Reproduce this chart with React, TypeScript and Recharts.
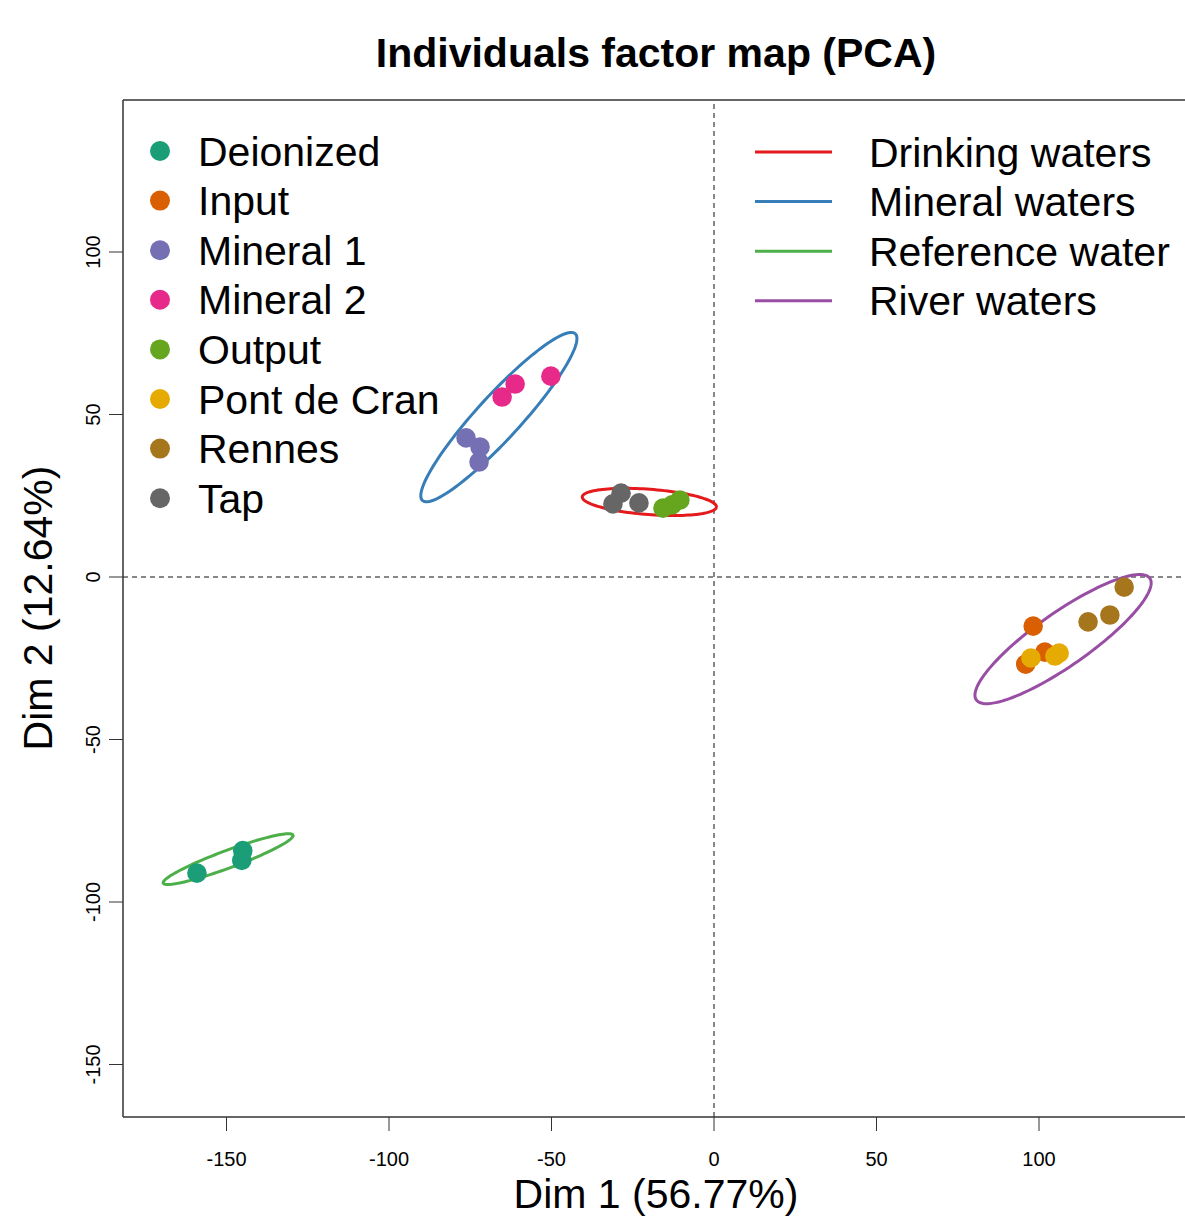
import { ScatterChart, Scatter, XAxis, YAxis, ReferenceLine } from 'recharts';

const FONT = '"Liberation Sans", Arial, sans-serif';

// individuals, grouped by sample (Dim 1 / Dim 2 coordinates)
const groupNames = ['Deionized', 'Input', 'Mineral 1', 'Mineral 2', 'Output', 'Pont de Cran', 'Rennes', 'Tap'];
const groupColors = ['#1B9E77', '#D95F02', '#7570B3', '#E7298A', '#66A61E', '#E6AB02', '#A6761D', '#666666'];

const deionizedX = [-159.1, -145.0, -145.3];
const deionizedY = [-91.1, -84.2, -87.2];
const inputX = [98.2, 95.9, 101.8];
const inputY = [-15.1, -26.8, -23.1];
const mineral1X = [-76.3, -72.0, -72.3];
const mineral1Y = [42.8, 40.0, 35.4];
const mineral2X = [-65.2, -61.2, -50.2];
const mineral2Y = [55.4, 59.4, 61.8];
const outputX = [-15.7, -12.9, -10.5];
const outputY = [21.2, 22.2, 23.7];
const pontX = [97.5, 104.9, 106.2];
const pontY = [-24.9, -24.3, -23.4];
const rennesX = [115.1, 121.8, 126.2];
const rennesY = [-13.8, -11.7, -3.1];
const tapX = [-28.6, -31.1, -23.1];
const tapY = [25.8, 22.5, 22.8];

const groupXs = [deionizedX, inputX, mineral1X, mineral2X, outputX, pontX, rennesX, tapX];
const groupYs = [deionizedY, inputY, mineral1Y, mineral2Y, outputY, pontY, rennesY, tapY];

// confidence ellipses per water type
const ellipseNames = ['Drinking waters', 'Mineral waters', 'Reference water', 'River waters'];
const ellipseColors = ['#E41A1C', '#377EB8', '#4DAF4A', '#984EA3'];
const ellipseCx = [-19.9, -66.2, -149.5, 107.4];
const ellipseCy = [23.1, 49.2, -86.8, -19.1];
const ellipseA = [20.7, 34.8, 21.3, 32.6];
const ellipseB = [3.9, 6.7, 2.7, 8.2];
const ellipseAngle = [-4.3, 47.5, 20.3, 35];

const xTicks = [-150, -100, -50, 0, 50, 100];
const yTicks = [-150, -100, -50, 0, 50, 100];
const xDomain = [-181.85, 144.92];
const yDomain = [-166.15, 146.77];

const ellipsePoints = (i: number) => {
  const pts: { x: number; y: number }[] = [];
  const t = (ellipseAngle[i] * Math.PI) / 180;
  for (let k = 0; k <= 120; k++) {
    const u = (k / 120) * 2 * Math.PI;
    const ex = ellipseA[i] * Math.cos(u);
    const ey = ellipseB[i] * Math.sin(u);
    pts.push({
      x: ellipseCx[i] + ex * Math.cos(t) - ey * Math.sin(t),
      y: ellipseCy[i] + ex * Math.sin(t) + ey * Math.cos(t),
    });
  }
  return pts;
};

const XTick = (props: any) => (
  <text x={props.x} y={props.y + 35} textAnchor="middle" fontSize={20} fontFamily={FONT} fill="#000">
    {props.payload.value}
  </text>
);

const YTick = (props: any) => {
  const x = props.x - 9;
  return (
    <text
      x={x}
      y={props.y}
      transform={`rotate(-90, ${x}, ${props.y})`}
      textAnchor="middle"
      fontSize={20}
      fontFamily={FONT}
      fill="#000"
    >
      {props.payload.value}
    </text>
  );
};

const noShape = () => <g />;

export default function App() {
  return (
    <div style={{ position: 'absolute', left: 0, top: 0, width: 1185, height: 1220, background: '#fff' }}>
      <ScatterChart width={1185} height={1220} margin={{ top: 100, right: 0, bottom: 43, left: 63 }}>
        <XAxis
          type="number"
          dataKey="x"
          domain={xDomain}
          ticks={xTicks}
          allowDataOverflow
          tickSize={14}
          tickMargin={0}
          height={60}
          tick={<XTick />}
          axisLine={{ stroke: '#333', strokeWidth: 1.5 }}
          tickLine={{ stroke: '#333' }}
        />
        <YAxis
          type="number"
          dataKey="y"
          domain={yDomain}
          ticks={yTicks}
          allowDataOverflow
          tickSize={14}
          tickMargin={0}
          width={60}
          tick={<YTick />}
          axisLine={{ stroke: '#333', strokeWidth: 1.5 }}
          tickLine={{ stroke: '#333' }}
        />
        <ReferenceLine y={yDomain[1]} stroke="#333" strokeWidth={1.5} />
        <ReferenceLine x={0} stroke="#111" strokeDasharray="5 4" />
        <ReferenceLine y={0} stroke="#111" strokeDasharray="5 4" />
        {ellipseNames.map((name, i) => (
          <Scatter
            key={name}
            name={name}
            data={ellipsePoints(i)}
            line={{ stroke: ellipseColors[i], strokeWidth: 3 }}
            lineType="joint"
            shape={noShape}
            isAnimationActive={false}
          />
        ))}
        {groupNames.map((name, i) => (
          <Scatter
            key={name}
            name={name}
            data={groupXs[i].map((x, k) => ({ x, y: groupYs[i][k] }))}
            shape={(p: any) => <circle cx={p.cx} cy={p.cy} r={9.8} fill={groupColors[i]} />}
            isAnimationActive={false}
          />
        ))}
      </ScatterChart>
      <svg
        width={1185}
        height={1220}
        style={{ position: 'absolute', left: 0, top: 0, pointerEvents: 'none' }}
        fontFamily={FONT}
      >
        <text x={656} y={67} textAnchor="middle" fontSize={41} fontWeight="bold" fill="#000">
          Individuals factor map (PCA)
        </text>
        <text x={656} y={1208} textAnchor="middle" fontSize={41} fill="#000">
          Dim 1 (56.77%)
        </text>
        <text x={52} y={608} transform="rotate(-90, 52, 608)" textAnchor="middle" fontSize={41} fill="#000">
          Dim 2 (12.64%)
        </text>
        {groupNames.map((name, i) => (
          <g key={name}>
            <circle cx={160} cy={151 + i * 49.6} r={10} fill={groupColors[i]} />
            <text x={198} y={151 + i * 49.6 + 14.5} fontSize={41} fill="#000">
              {name}
            </text>
          </g>
        ))}
        {ellipseNames.map((name, i) => (
          <g key={name}>
            <line x1={755} x2={832} y1={152 + i * 49.6} y2={152 + i * 49.6} stroke={ellipseColors[i]} strokeWidth={3} />
            <text x={869} y={152 + i * 49.6 + 14.5} fontSize={41} fill="#000">
              {name}
            </text>
          </g>
        ))}
      </svg>
    </div>
  );
}
